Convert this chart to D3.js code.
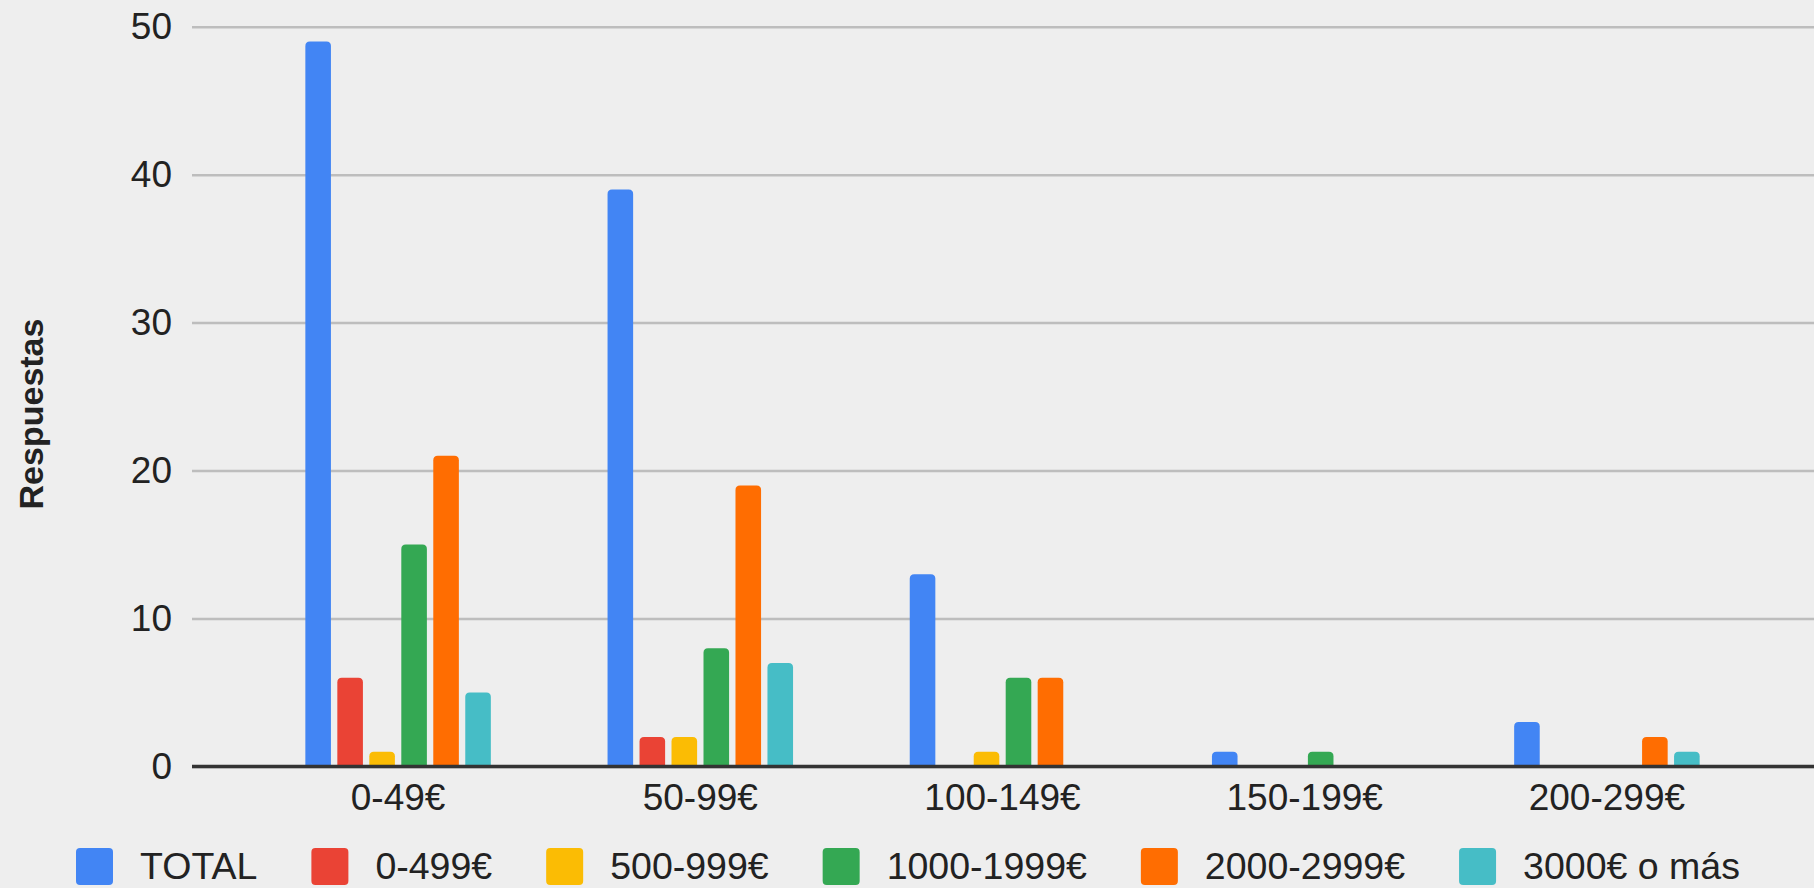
<!DOCTYPE html>
<html>
<head>
<meta charset="utf-8">
<script src="https://cdn.jsdelivr.net/npm/d3@7"></script>
<style>
  html, body { margin: 0; padding: 0; background: #eeeeee; }
  svg { display: block; }
  text { font-family: "Liberation Sans", Arial, sans-serif; fill: #222; }
</style>
</head>
<body>
<svg id="chart" width="1814" height="888"></svg>
<script>
// Price ranges on the x axis
const categories = ["0-49€", "50-99€", "100-149€", "150-199€", "200-299€"];

// Series (income brackets) and their colours
const seriesNames = ["TOTAL", "0-499€", "500-999€", "1000-1999€", "2000-2999€", "3000€ o más"];
const seriesColors = ["#4285f4", "#ea4335", "#fbbc04", "#34a853", "#ff6d01", "#46bdc6"];

// Responses per series, one value per category
const total      = [49, 39, 13, 1, 3];
const s0_499     = [6, 2, 0, 0, 0];
const s500_999   = [1, 2, 1, 0, 0];
const s1000_1999 = [15, 8, 6, 1, 0];
const s2000_2999 = [21, 19, 6, 0, 2];
const s3000plus  = [5, 7, 0, 0, 1];
const seriesValues = [total, s0_499, s500_999, s1000_1999, s2000_2999, s3000plus];

const yTicks = [0, 10, 20, 30, 40, 50];
const yTitle = "Respuestas";

const W = 1814, H = 888;
const plotLeft = 192, plotRight = 1814;
const svg = d3.select("#chart");

const y = d3.scaleLinear().domain([0, 50]).range([766.5, 26.7]);
const x0 = d3.scaleBand().domain(categories).range([247, 1758]).padding(0);
const x1 = d3.scaleBand().domain(seriesNames).range([0, 185.5]).paddingInner(0.2).paddingOuter(0);
const color = d3.scaleOrdinal().domain(seriesNames).range(seriesColors);

// Gridlines and y tick labels
const yAxis = d3.axisLeft(y)
  .tickValues(yTicks)
  .tickSize(-(plotRight - plotLeft))
  .tickPadding(20)
  .tickFormat(d3.format("d"));

const gy = svg.append("g")
  .attr("transform", `translate(${plotLeft},0)`)
  .call(yAxis);
gy.select(".domain").remove();
gy.selectAll(".tick line")
  .attr("stroke", "#bdbdbd")
  .attr("stroke-width", 2.5);
gy.selectAll(".tick text")
  .attr("font-size", 37)
  .attr("fill", "#222")
  .style("font-family", '"Liberation Sans", Arial, sans-serif');

// Bars with rounded top corners
function barPath(x, yTop, w, yBase, r) {
  const h = yBase - yTop;
  const rr = Math.min(r, w / 2, h);
  return `M${x},${yBase}` +
    `L${x},${yTop + rr}` +
    `Q${x},${yTop} ${x + rr},${yTop}` +
    `L${x + w - rr},${yTop}` +
    `Q${x + w},${yTop} ${x + w},${yTop + rr}` +
    `L${x + w},${yBase}Z`;
}

const groupWidth = x1.range()[1];
const groups = svg.append("g").selectAll("g")
  .data(categories)
  .join("g")
  .attr("transform", d => `translate(${x0(d) + x0.bandwidth() / 2 - groupWidth / 2},0)`);

groups.selectAll("path")
  .data((cat, ci) => seriesNames.map((s, si) => ({ s, v: seriesValues[si][ci] })).filter(d => d.v > 0))
  .join("path")
  .attr("fill", d => color(d.s))
  .attr("d", d => barPath(x1(d.s), y(d.v), x1.bandwidth(), y(0), 4.5));

// Baseline
svg.append("line")
  .attr("x1", plotLeft).attr("x2", plotRight)
  .attr("y1", y(0)).attr("y2", y(0))
  .attr("stroke", "#333")
  .attr("stroke-width", 3.5);

// Category labels
svg.append("g").selectAll("text")
  .data(categories)
  .join("text")
  .attr("x", d => x0(d) + x0.bandwidth() / 2)
  .attr("y", 810)
  .attr("text-anchor", "middle")
  .attr("font-size", 37)
  .text(d => d);

// Y axis title
svg.append("text")
  .attr("transform", "translate(43,414) rotate(-90)")
  .attr("text-anchor", "middle")
  .attr("font-size", 34)
  .attr("font-weight", "bold")
  .text(yTitle);

// Legend laid out left to right
const legend = svg.append("g");
let lx = 76;
const sw = 37, gapText = 27, gapItem = 54, legendBase = 879;
seriesNames.forEach(name => {
  legend.append("rect")
    .attr("x", lx).attr("y", legendBase - 31)
    .attr("width", sw).attr("height", 37)
    .attr("rx", 4).attr("ry", 4)
    .attr("fill", color(name));
  const t = legend.append("text")
    .attr("x", lx + sw + gapText)
    .attr("y", legendBase)
    .attr("font-size", 37.5)
    .text(name);
  lx += sw + gapText + t.node().getComputedTextLength() + gapItem;
});
</script>
</body>
</html>
